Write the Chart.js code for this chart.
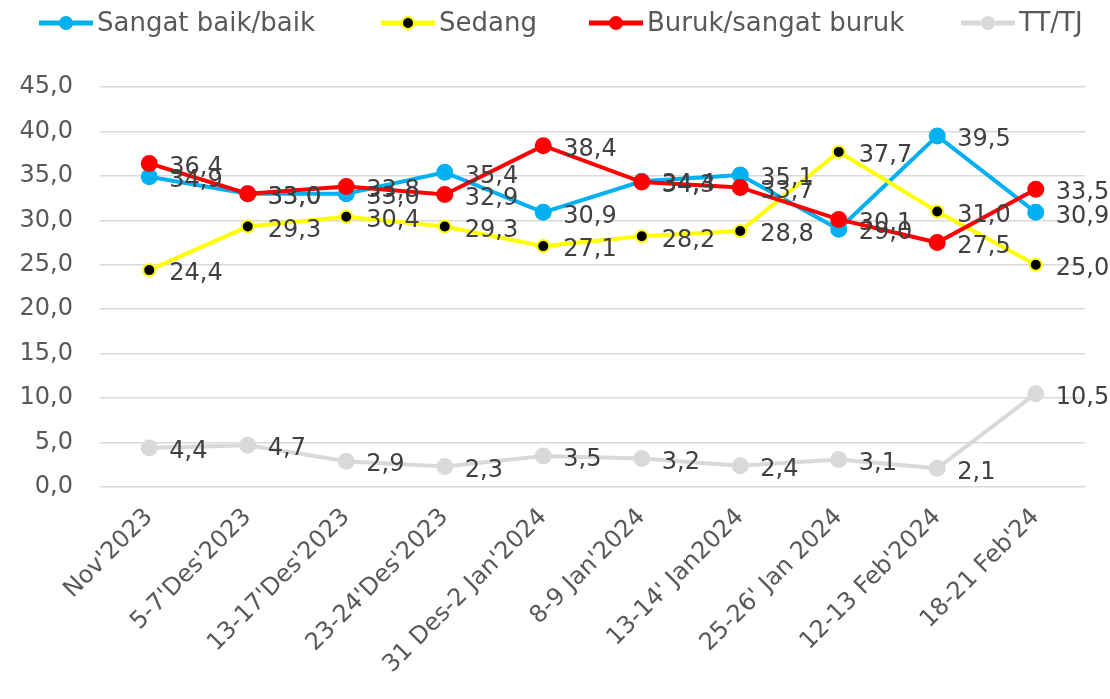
<!DOCTYPE html>
<html>
<head>
<meta charset="utf-8">
<script src="https://cdn.jsdelivr.net/npm/chart.js@4"></script>
<style>
  html, body { margin: 0; padding: 0; background: #fff; }
  #wrap { width: 1110px; height: 699px; position: relative; }
</style>
</head>
<body>
<div id="wrap"><canvas id="survey-chart"></canvas></div>
<script>
const categories = ["Nov'2023", "5-7'Des'2023", "13-17'Des'2023", "23-24'Des'2023", "31 Des-2 Jan'2024",
    "8-9 Jan'2024", "13-14' Jan2024", "25-26' Jan 2024", "12-13 Feb'2024", "18-21 Feb'24"];
const baik = [34.9, 33.0, 33.0, 35.4, 30.9, 34.4, 35.1, 29.0, 39.5, 30.9];
const sedang = [24.4, 29.3, 30.4, 29.3, 27.1, 28.2, 28.8, 37.7, 31.0, 25.0];
const buruk = [36.4, 33.0, 33.8, 32.9, 38.4, 34.3, 33.7, 30.1, 27.5, 33.5];
const ttTj = [4.4, 4.7, 2.9, 2.3, 3.5, 3.2, 2.4, 3.1, 2.1, 10.5];

const FONT = "'DejaVu Sans', sans-serif";
const fmt = v => Number(v).toFixed(1).replace('.', ',');

// data labels to the right of every point
const pointLabels = {
    id: 'pointLabels',
    afterDatasetsDraw(chart) {
        const ctx = chart.ctx;
        ctx.save();
        ctx.font = '24px ' + FONT;
        ctx.fillStyle = '#404040';
        ctx.textBaseline = 'middle';
        ctx.textAlign = 'left';
        chart.data.datasets.forEach((ds, i) => {
            const meta = chart.getDatasetMeta(i);
            meta.data.forEach((pt, j) => {
                ctx.fillText(fmt(ds.data[j]), pt.x + 20, pt.y + 4);
            });
        });
        ctx.restore();
    }
};

// legend row at the top: line + dot marker, then the series name
const topLegend = {
    id: 'topLegend',
    afterDraw(chart) {
        const ctx = chart.ctx;
        const starts = [39, 381, 589, 961];
        const y = 23;
        ctx.save();
        ctx.font = '26px ' + FONT;
        ctx.textBaseline = 'middle';
        ctx.textAlign = 'left';
        chart.data.datasets.forEach((ds, i) => {
            const x = starts[i];
            ctx.strokeStyle = ds.borderColor;
            ctx.lineWidth = 5;
            ctx.beginPath(); ctx.moveTo(x, y); ctx.lineTo(x + 54, y); ctx.stroke();
            ctx.fillStyle = ds.pointBackgroundColor;
            ctx.strokeStyle = ds.pointBorderColor;
            ctx.lineWidth = 2;
            ctx.beginPath(); ctx.arc(x + 27, y, 6, 0, Math.PI * 2); ctx.fill(); ctx.stroke();
            ctx.fillStyle = '#595959';
            ctx.fillText(ds.label, x + 58, y + 1);
        });
        ctx.restore();
    }
};

new Chart(document.getElementById('survey-chart'), {
    type: 'line',
    data: {
        labels: categories,
        datasets: [{
            label: 'Sangat baik/baik',
            data: baik,
            borderColor: '#00B0F0',
            pointBackgroundColor: '#00B0F0',
            pointBorderColor: '#00B0F0',
            pointRadius: 6.5,
            borderWidth: 4,
            order: 2
        }, {
            label: 'Sedang',
            data: sedang,
            borderColor: '#FFFF00',
            pointBackgroundColor: '#000000',
            pointBorderColor: '#FFFF00',
            pointBorderWidth: 2,
            pointRadius: 6,
            borderWidth: 4,
            order: 1
        }, {
            label: 'Buruk/sangat buruk',
            data: buruk,
            borderColor: '#FF0000',
            pointBackgroundColor: '#FF0000',
            pointBorderColor: '#FF0000',
            pointRadius: 6.5,
            borderWidth: 4,
            order: 0
        }, {
            label: 'TT/TJ',
            data: ttTj,
            borderColor: '#D9D9D9',
            pointBackgroundColor: '#D9D9D9',
            pointBorderColor: '#D9D9D9',
            pointRadius: 6.5,
            borderWidth: 4,
            order: 3
        }]
    },
    options: {
        responsive: true,
        maintainAspectRatio: false,
        animation: false,
        layout: { padding: { left: 0, right: 25, top: 87, bottom: 0 } },
        plugins: {
            tooltip: { enabled: false },
            legend: { display: false }
        },
        scales: {
            x: {
                offset: true,
                grid: { display: false },
                border: { display: false },
                afterFit(scale) { scale.height = 212; },
                ticks: {
                    color: '#595959',
                    font: { family: FONT, size: 24 },
                    maxRotation: 45,
                    minRotation: 45,
                    padding: 8,
                    autoSkip: false
                }
            },
            y: {
                min: 0,
                max: 45,
                border: { display: false },
                afterFit(scale) { scale.width = 100; },
                grid: { color: '#D9D9D9', lineWidth: 1.5, drawTicks: false },
                ticks: {
                    stepSize: 5,
                    padding: 27,
                    color: '#595959',
                    font: { family: FONT, size: 24 },
                    callback: v => fmt(v)
                }
            }
        }
    },
    plugins: [pointLabels, topLegend]
});
</script>
</body>
</html>
